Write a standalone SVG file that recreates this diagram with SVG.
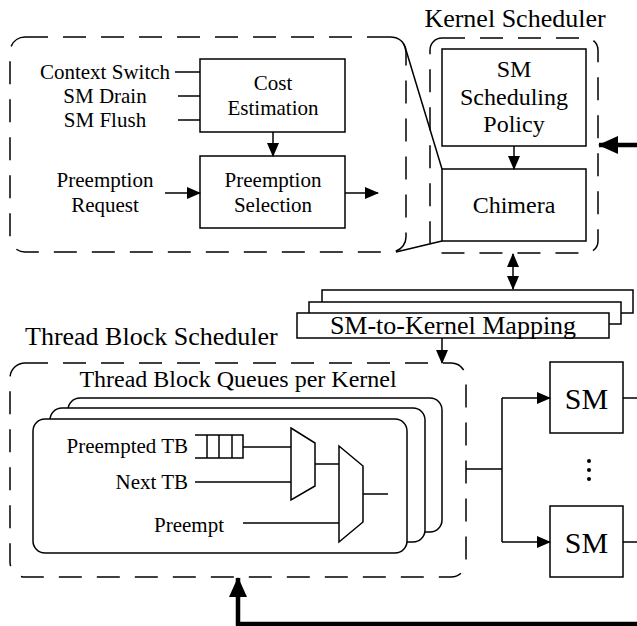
<svg xmlns="http://www.w3.org/2000/svg" width="637" height="626" viewBox="0 0 637 626" font-family="'Liberation Serif', 'Times New Roman', 'DejaVu Serif', serif">
<style>
text{font-family:'Liberation Serif','Times New Roman','DejaVu Serif',serif;fill:#000}
.b{fill:#fff;stroke:#000;stroke-width:1.5}
.d{fill:none;stroke:#000;stroke-width:1.5;stroke-dasharray:23 15}
.l{fill:none;stroke:#000;stroke-width:1.5}
.k{fill:none;stroke:#000;stroke-width:4.5}
.a{marker-end:url(#ah)}
.s21{font-size:21px}
.s24{font-size:24px}
.s26{font-size:26px}
.s30{font-size:30px}
.c{text-anchor:middle}
</style>
<defs>
<marker id="ah" viewBox="0 0 14 12" refX="13" refY="6" markerWidth="14" markerHeight="12" orient="auto-start-reverse" markerUnits="userSpaceOnUse"><path d="M0,0 L14,6 L0,12 z" fill="#000"/></marker>
<marker id="ahb" viewBox="0 0 20 18" refX="19" refY="9" markerWidth="20" markerHeight="18" orient="auto" markerUnits="userSpaceOnUse"><path d="M0,0 L20,9 L0,18 z" fill="#000"/></marker>
</defs>

<g id="preemption-detail">
<rect class="d" x="10" y="37" width="396" height="215" rx="15"/>
</g>

<g id="kernel-scheduler">
<rect class="d" x="430" y="38" width="168" height="215" rx="12"/>
<text class="s26 c" x="515" y="27">Kernel Scheduler</text>
</g>

<g id="cost-estimation">
<rect class="b" x="200" y="59" width="145" height="73"/>
<text class="s21 c" x="273" y="90">Cost</text>
<text class="s21 c" x="273" y="115">Estimation</text>
</g>

<g id="preemption-selection">
<rect class="b" x="200" y="156" width="145" height="72"/>
<text class="s21 c" x="273" y="187">Preemption</text>
<text class="s21 c" x="273" y="212">Selection</text>
</g>

<g id="inputs">
<text class="s21 c" x="105" y="79">Context Switch</text>
<text class="s21 c" x="105" y="103">SM Drain</text>
<text class="s21 c" x="105" y="127">SM Flush</text>
<text class="s21 c" x="105" y="187">Preemption</text>
<text class="s21 c" x="105" y="212">Request</text>
</g>

<g id="sm-scheduling-policy">
<rect class="b" x="442" y="49" width="144" height="97"/>
<text class="s24 c" x="514" y="77">SM</text>
<text class="s24 c" x="514" y="105">Scheduling</text>
<text class="s24 c" x="514" y="132">Policy</text>
</g>

<g id="chimera">
<rect class="b" x="442" y="169" width="144" height="72"/>
<text class="s24 c" x="514" y="213">Chimera</text>
</g>

<g id="sm-to-kernel-mapping">
<rect class="b" x="322" y="290" width="311" height="23"/>
<rect class="b" x="309" y="302" width="312" height="22"/>
<rect class="b" x="297" y="313" width="312" height="25"/>
<text class="s26 c" x="453" y="334">SM-to-Kernel Mapping</text>
</g>

<g id="thread-block-scheduler">
<rect class="d" x="10" y="363" width="456" height="214" rx="15"/>
<text class="s26" x="25" y="345">Thread Block Scheduler</text>
<text class="s24 c" x="238" y="387">Thread Block Queues per Kernel</text>
</g>

<g id="tb-queues">
<rect class="b" x="68" y="398" width="374" height="134" rx="12"/>
<rect class="b" x="50" y="408" width="375" height="134" rx="12"/>
<rect class="b" x="33" y="419" width="374" height="134" rx="12"/>
<text class="s21" x="188" y="453" text-anchor="end">Preempted TB</text>
<text class="s21" x="188" y="489" text-anchor="end">Next TB</text>
<text class="s21" x="154" y="532">Preempt</text>
<path class="l" d="M195,435 H243 V458 H195 M207,435 V458 M219,435 V458 M232,435 V458"/>
<path class="l" d="M291,428 L315,443 L315,486 L291,500 Z"/>
<path class="l" d="M339,446 L363,466 L363,522 L339,542 Z"/>
<path class="l" d="M243,447 H291 M195,482 H291 M315,464 H339 M243,523 H339 M363,494 H388"/>
</g>

<g id="sm-1">
<rect class="b" x="550" y="362" width="73" height="71"/>
<text class="s30 c" x="586.5" y="409">SM</text>
</g>

<g id="sm-n">
<rect class="b" x="550" y="506" width="73" height="71"/>
<text class="s30 c" x="586.5" y="553">SM</text>
</g>

<g id="ellipsis">
<circle cx="589" cy="461" r="2"/>
<circle cx="589" cy="470" r="2"/>
<circle cx="589" cy="479" r="2"/>
</g>

<g id="connectors">
<path class="l" d="M390,37 Q403,37 406,50 L442,169"/>
<path class="l" d="M396,252 L442,241"/>
<path class="l" d="M175,72 H200 M178,96 H200 M178,120 H200"/>
<path class="l a" d="M273,132 V156"/>
<path class="l a" d="M165,193 H200"/>
<path class="l a" d="M345,193 H378"/>
<path class="l a" d="M514,146 V169"/>
<path class="l a" d="M513,254 V289" marker-start="url(#ah)"/>
<path class="l a" d="M442,338 V363"/>
<path class="l" d="M466,469 H502 M502,398 V542"/>
<path class="l a" d="M502,398 H550"/>
<path class="l a" d="M502,542 H550"/>
<path class="l" d="M623,398 H637 M623,542 H637"/>
<path class="k" d="M637,145 H599" marker-end="url(#ahb)"/>
<path class="k" d="M637,624 H238 V578" marker-end="url(#ahb)"/>
</g>
</svg>
